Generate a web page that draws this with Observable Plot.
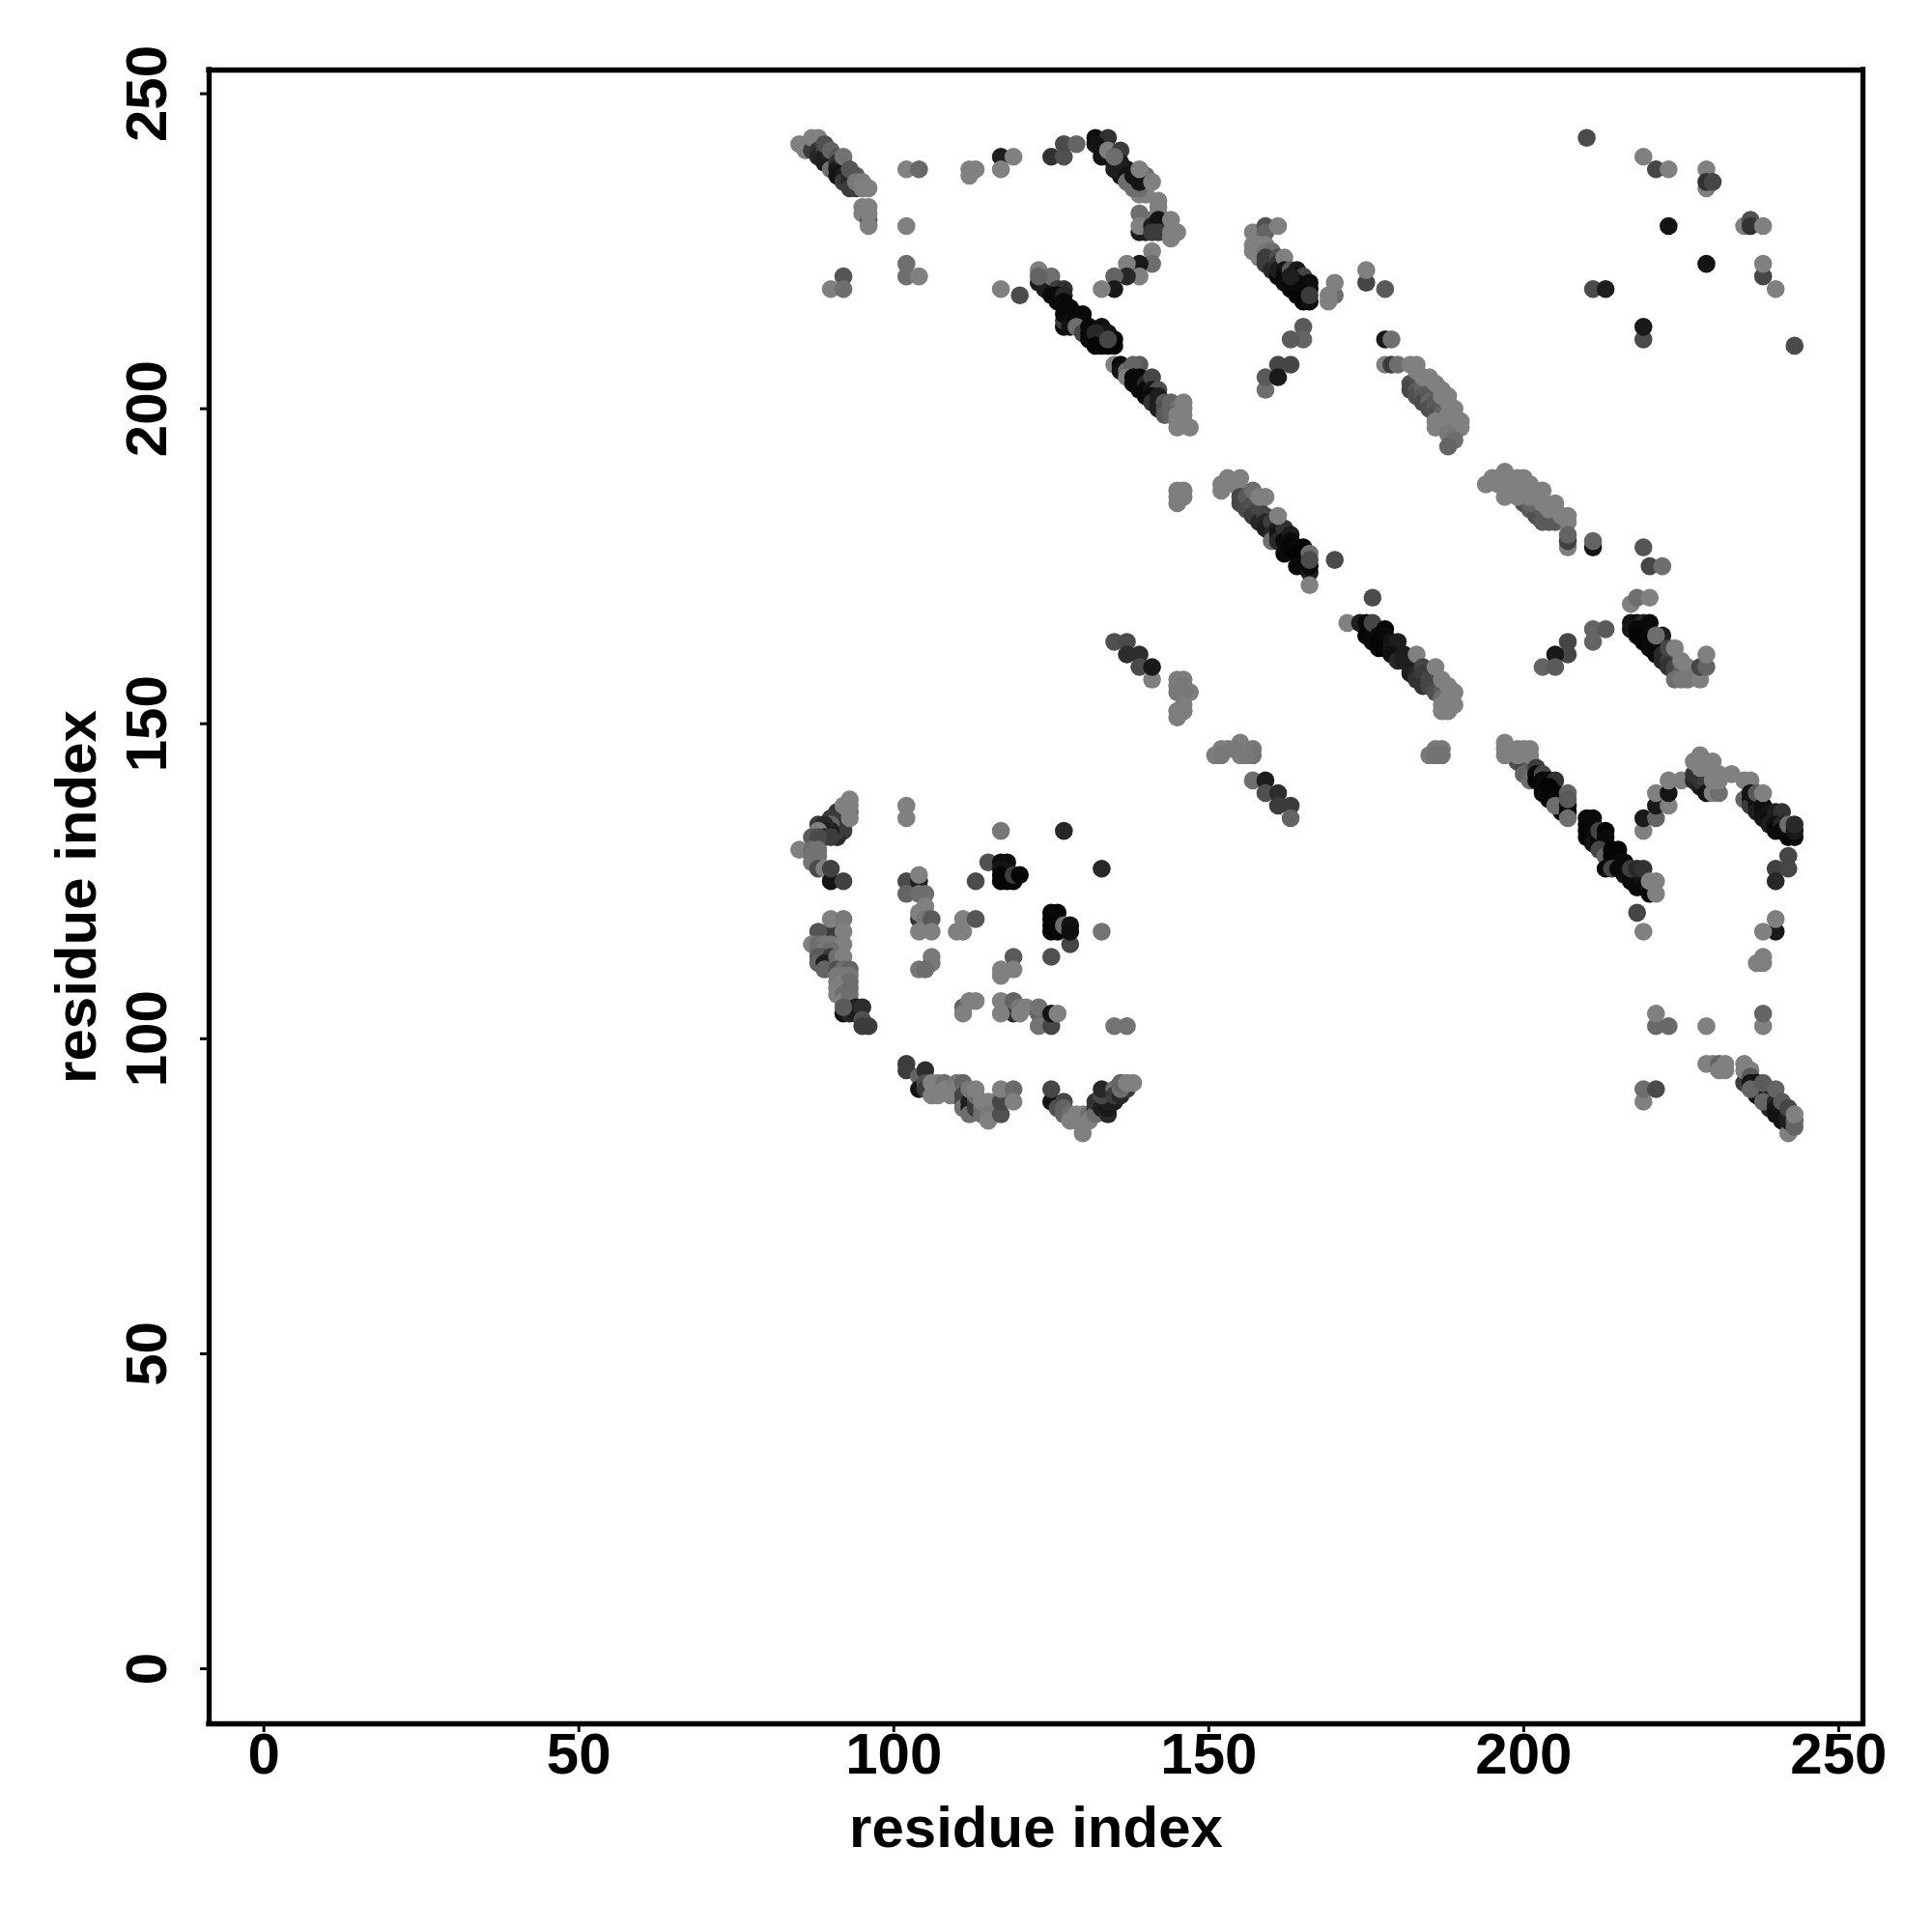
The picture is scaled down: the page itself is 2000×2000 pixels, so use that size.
<!DOCTYPE html>
<html>
<head>
<meta charset="utf-8">
<script src="https://cdn.jsdelivr.net/npm/d3@7"></script>
<script src="https://cdn.jsdelivr.net/npm/@observablehq/plot@0.6"></script>
<style>html,body{margin:0;padding:0;background:#fff}svg{display:block}</style>
</head>
<body>
<div id="chart"></div>
<script>
// each contact: [residue x, residue y, grey level]
const helixTopLeft = [[85,242,128],[86,241,128],[87,241,60],[87,243,128],[88,243,128],[88,241,50],[88,240,40],[89,241,60],[89,240,30],[89,239,30],[90,240,40],[90,239,30],[89,242,80],[90,241,100],[90,238,110],[91,240,90],[91,239,50],[91,238,25],[91,237,20],[92,239,40],[92,238,20],[92,237,30],[92,236,60],[93,237,40],[93,236,40],[93,235,60],[94,235,60],[94,237,90],[92,240,115],[93,238,85],[94,236,120],[95,236,125],[95,235,128],[96,235,128],[95,232,128],[95,231,128],[96,230,90],[96,229,128],[96,232,128],[96,231,128]];
const sparseTopLeft = [[102,238,128],[104,238,105],[102,229,128],[102,223,110],[102,221,110],[104,221,128],[92,221,85],[90,219,128],[92,219,110],[112,238,128],[113,238,128],[112,237,128],[117,240,30],[119,240,128],[117,238,128],[125,240,50],[127,240,80],[127,242,75],[129,242,100],[117,219,128],[120,218,75]];
const arcTop = [[133,242,15],[133,241,15],[134,240,20],[135,239,20],[136,238,20],[136,237,20],[137,238,25],[138,236,15],[139,237,30],[140,236,80],[140,237,110],[139,234,128],[140,234,128],[140,228,40],[140,229,30],[140,230,110],[132,243,15],[134,243,50],[132,242,20],[133,240,20],[134,241,128],[136,241,60],[135,238,30],[136,239,30],[137,237,20],[137,236,110],[138,235,110],[139,235,110],[139,236,20],[135,240,110],[138,237,20],[139,238,128],[141,236,128],[142,233,128],[142,231,128],[142,232,128],[139,228,30],[139,231,110],[139,229,128],[143,229,128],[143,228,128],[143,230,128],[141,229,30],[142,230,20],[141,228,60],[142,228,60],[144,230,128],[144,227,128],[145,228,128],[144,228,128],[141,225,128],[141,223,110],[139,223,25],[137,223,128],[139,221,128],[137,221,40],[135,221,100],[135,219,25],[133,219,128]];
const ridgeUpper = [[124,220,30],[124,219,30],[125,220,60],[125,219,20],[123,220,30],[123,222,128],[125,221,110],[123,221,100],[126,219,60],[127,219,50],[125,218,10],[126,218,10],[126,217,10],[127,218,40],[127,217,10],[127,213,15],[127,214,60],[127,215,10],[128,216,10],[128,215,10],[128,214,15],[128,213,20],[129,215,10],[129,214,10],[130,215,10],[130,214,10],[129,213,110],[130,212,70],[131,213,10],[131,212,10],[131,211,10],[132,211,10],[133,213,15],[133,212,20],[133,211,10],[134,212,20],[132,212,40],[132,210,5],[133,210,5],[135,211,10],[134,210,5],[135,210,5],[134,211,70]];
const ridgeLower = [[135,207,128],[136,207,10],[136,206,20],[137,206,110],[138,206,10],[139,207,90],[138,207,100],[137,205,128],[138,204,10],[138,205,10],[139,205,10],[139,204,10],[139,203,10],[140,204,40],[140,203,10],[140,202,10],[141,205,70],[141,203,20],[142,203,80],[141,202,10],[141,201,50],[142,202,30],[142,201,30],[142,200,30],[143,201,90],[143,200,80],[143,199,90],[144,201,100],[144,200,100],[145,200,110],[146,201,128],[144,199,100],[145,199,128],[145,198,128],[146,198,128],[146,200,128],[146,199,128],[145,197,128],[147,197,128]];
const sparseTopRight = [[210,243,75],[219,240,128],[221,238,70],[223,238,128],[229,238,128],[229,235,128],[229,236,50],[230,236,70],[223,229,20],[235,229,128],[236,230,80],[236,229,50],[238,229,128],[229,223,20],[238,221,70],[238,223,128],[240,219,128],[211,219,75],[213,219,30],[219,211,75],[219,213,25],[243,210,75]];
const clusterMiddleTop = [[175,220,70],[175,222,128],[178,219,90],[170,218,110],[169,218,128],[169,217,128],[170,220,128],[165,213,90],[165,211,100],[163,211,90],[161,207,70],[163,207,70],[159,203,110],[159,205,90],[161,205,25],[178,211,25],[179,211,110],[178,207,128],[179,207,60],[180,207,110],[182,207,128],[183,207,128]];
const helixUpperMiddle = [[157,228,128],[159,229,80],[159,228,100],[161,229,128],[157,226,128],[157,225,128],[158,226,128],[158,225,128],[158,224,128],[159,226,128],[159,225,120],[160,225,110],[159,223,60],[159,224,60],[160,223,60],[160,222,40],[161,224,80],[161,223,50],[161,221,10],[161,222,30],[162,224,128],[162,222,20],[162,221,10],[163,222,90],[164,222,25],[163,220,5],[163,219,5],[164,221,10],[164,219,5],[164,218,5],[165,220,10],[165,219,5],[165,218,5],[165,221,70],[166,219,10],[166,220,15],[165,217,5],[166,217,15],[166,218,60],[164,220,10],[162,220,10],[163,221,30]];
const bandUpperRight = [[182,204,80],[182,203,70],[183,203,90],[183,202,80],[184,203,100],[184,202,90],[184,201,75],[185,202,90],[185,201,100],[185,200,80],[186,201,90],[186,200,90],[186,199,80],[187,200,90],[187,199,100],[187,198,90],[188,198,100],[183,206,128],[184,205,128],[185,205,128],[186,204,128],[187,203,128],[187,202,128],[188,202,128],[188,201,128],[189,200,128],[189,199,128],[188,199,128],[189,198,128],[190,198,128],[186,198,128],[186,197,128],[188,197,128],[190,197,128],[189,196,128],[188,196,120],[189,195,110],[188,194,100]];
const blockMiddle = [[145,187,125],[146,187,125],[145,186,125],[146,186,125],[145,185,125],[145,157,125],[146,157,125],[145,156,125],[146,156,120],[145,155,120],[147,155,125],[146,155,120],[146,153,125],[145,152,125],[146,152,125],[145,151,125],[151,145,125],[152,146,125],[153,146,125],[152,145,120],[155,147,125],[155,145,125],[154,146,120],[157,146,120],[157,145,115],[156,145,120],[185,145,120],[186,146,120],[187,146,120],[187,145,115],[186,145,115]];
const helixCentre = [[152,188,128],[152,187,128],[153,189,128],[155,189,128],[154,188,128],[155,187,128],[155,186,70],[155,185,70],[156,186,90],[156,184,75],[157,185,80],[157,183,60],[157,187,110],[158,184,70],[158,182,40],[159,183,70],[159,182,40],[159,181,30],[160,182,60],[158,186,128],[159,186,128],[160,180,40],[160,179,110],[161,181,30],[161,180,20],[161,179,40],[162,181,50],[161,183,128],[162,179,10],[162,177,10],[163,180,30],[163,179,10],[163,178,5],[164,178,10],[164,177,5],[165,178,5],[165,177,5],[165,176,5],[165,175,10],[166,177,110],[164,175,10],[166,174,30],[166,175,10],[166,172,128],[166,176,75],[170,176,75],[176,170,75]];
const helixCentreLower = [[172,166,128],[174,166,30],[175,166,10],[175,164,5],[176,164,10],[176,163,10],[177,165,128],[176,166,70],[177,164,10],[177,163,5],[177,162,5],[178,165,5],[178,164,10],[178,162,5],[179,163,20],[179,162,20],[180,163,30],[179,161,15],[180,160,40],[181,161,30],[181,160,30],[182,160,30],[182,159,30],[182,158,30],[183,158,40],[183,157,50],[183,161,128],[184,159,70],[184,158,60],[184,156,50],[185,158,60],[185,157,70],[185,156,70],[186,157,70],[186,156,70],[186,155,80],[187,155,90],[187,154,110],[186,159,128],[187,157,128],[188,156,128],[188,154,128],[188,153,128],[189,155,128],[189,153,128],[187,152,128],[188,152,128],[187,153,128]];
const chainLeft = [[135,163,80],[137,163,75],[137,161,45],[139,161,45],[139,159,75],[141,157,128],[141,159,25],[157,141,110],[159,141,30],[159,139,80],[161,139,45],[161,137,60],[163,137,60],[163,135,100]];
const bandRightUpper = [[200,185,80],[201,184,90],[202,183,80],[203,182,90],[204,182,90],[205,182,90],[203,184,90],[204,183,90],[201,185,100],[194,188,128],[195,189,128],[197,190,128],[197,186,128],[199,186,128],[198,188,128],[199,187,128],[199,189,128],[200,189,128],[200,187,128],[201,188,128],[201,186,128],[202,187,128],[202,186,128],[203,187,128],[203,185,128],[204,184,128],[205,184,128],[205,185,128],[206,183,128],[207,183,128],[207,182,128],[196,188,128],[197,188,128],[207,178,128],[207,179,65],[207,180,100],[211,178,20],[211,179,100],[219,178,85],[220,175,70],[222,175,110],[217,169,128],[218,170,110],[220,170,128]];
const helixRightUpper = [[217,166,20],[218,166,15],[219,166,40],[220,166,10],[217,165,25],[218,165,10],[219,165,10],[218,164,5],[219,163,5],[220,164,10],[220,163,5],[220,162,10],[222,164,30],[221,162,10],[221,161,10],[222,161,40],[222,160,40],[221,164,110],[223,160,60],[223,159,50],[224,159,70],[224,158,70],[223,162,70],[224,162,128],[225,158,100],[226,158,110],[224,157,110],[225,160,128],[226,159,128],[225,157,120],[226,157,120],[228,157,128],[228,159,70],[229,159,100],[229,161,128],[207,163,70],[207,161,70],[205,161,25],[203,159,100],[205,159,90],[211,165,100],[213,165,90],[211,163,100]];
const helixRightMiddle = [[199,144,80],[200,143,70],[201,144,90],[200,142,100],[201,141,110],[197,147,128],[197,146,128],[197,145,128],[199,146,128],[199,145,128],[200,146,128],[201,146,128],[201,145,128],[202,143,60],[202,142,10],[202,141,5],[203,142,70],[203,141,10],[203,140,10],[203,139,10],[204,141,10],[205,141,50],[204,140,5],[204,138,5],[205,139,5],[205,138,10],[206,138,5],[206,137,10],[206,136,10],[205,137,110],[207,137,15],[207,136,5],[207,135,110],[207,139,100],[207,138,90]];
const helixRightLower = [[210,135,10],[211,135,10],[210,134,10],[210,133,5],[210,132,5],[211,134,10],[211,133,10],[211,132,10],[211,131,20],[212,132,10],[212,131,10],[212,133,70],[213,133,5],[213,132,10],[213,131,10],[212,130,70],[213,129,100],[214,130,5],[214,129,5],[214,128,5],[215,130,5],[215,129,5],[215,128,10],[216,128,10],[216,127,10],[216,126,20],[213,127,10],[214,127,70],[215,127,10],[217,126,15],[217,125,10],[218,126,15],[218,125,15],[218,124,10],[219,125,20],[219,124,10],[217,127,60],[218,127,40],[219,127,50],[220,124,30],[220,123,5],[220,125,128],[221,125,128],[221,123,128],[218,120,70],[219,117,128]];
const arcRight = [[219,133,128],[219,135,25],[221,135,100],[221,137,25],[221,139,128],[223,137,128],[223,139,20],[223,141,128],[225,141,128],[227,141,40],[227,142,50],[228,140,30],[228,142,50],[229,142,20],[228,141,50],[229,141,60],[229,139,20],[230,139,128],[231,139,110],[227,144,128],[228,143,128],[229,143,128],[229,144,128],[228,145,128],[230,144,128],[230,141,128],[231,142,128],[231,141,128],[233,142,128],[235,138,100],[235,141,128],[236,141,128],[236,138,20],[236,137,60],[236,139,20],[237,138,20],[237,137,15],[237,136,30],[237,139,90],[238,137,15],[238,136,15],[238,139,128],[238,135,20],[239,136,20],[239,135,15],[239,134,30],[240,136,30],[241,136,50],[240,134,15],[240,133,10],[241,134,40],[241,133,10],[242,133,10],[242,132,10],[243,132,10],[242,134,110],[243,133,25],[243,134,40],[242,129,70],[240,127,65],[242,127,70],[240,125,40],[240,117,25],[240,119,128],[238,117,128],[238,113,128],[237,112,128],[238,112,128]];
const lowerRight = [[221,102,105],[221,104,128],[223,102,105],[229,102,128],[238,102,128],[238,104,100],[229,96,128],[230,96,128],[231,96,100],[231,95,128],[232,96,128],[232,95,128],[235,93,60],[235,96,128],[235,95,128],[236,95,128],[236,94,90],[236,93,20],[237,93,20],[237,92,20],[238,92,25],[237,91,20],[238,91,30],[239,91,30],[239,90,20],[239,89,40],[236,92,100],[238,90,100],[238,93,90],[240,90,40],[240,89,25],[240,88,20],[241,89,25],[241,88,20],[241,87,20],[242,88,30],[240,92,100],[241,90,90],[242,85,128],[242,87,30],[242,89,70],[243,86,100],[243,87,100],[243,88,128],[219,90,128],[219,92,110],[221,92,75]];
const pocketUpperLeft = [[92,134,50],[92,133,60],[91,134,40],[91,132,40],[91,133,60],[91,135,50],[91,136,50],[93,136,100],[93,135,128],[93,137,128],[92,137,128],[93,138,128],[90,135,60],[90,134,100],[90,133,30],[88,134,60],[89,134,40],[89,133,30],[88,133,128],[89,132,40],[87,132,90],[90,132,60],[88,132,75],[85,130,128],[87,130,110],[88,130,115],[87,129,115],[88,129,115],[87,128,115],[88,127,75],[89,127,128],[90,125,20],[90,127,65],[92,125,65]];
const pocketCentre = [[102,137,128],[102,135,128],[117,133,120],[127,133,40],[133,127,40],[115,128,80],[117,128,15],[118,128,15],[117,127,20],[117,126,5],[117,125,5],[118,125,5],[119,125,5],[119,126,60],[120,126,5],[113,125,75],[125,120,5],[126,120,5],[125,119,10],[125,118,5],[125,117,5],[126,117,5],[127,118,110],[128,115,70],[128,118,20],[128,117,15],[133,117,115],[125,113,80]];
const pocketMiddle = [[102,125,75],[104,125,30],[104,126,128],[102,123,100],[104,123,110],[105,123,110],[105,121,128],[104,119,50],[104,120,128],[105,119,120],[106,119,90],[104,117,128],[106,117,128],[111,119,128],[113,119,85],[110,117,128],[111,117,128],[106,113,120],[106,112,120],[104,111,120],[105,111,110],[119,113,90],[117,111,128],[119,111,128],[117,110,128]];
const pocketLowerRow = [[111,105,100],[112,106,128],[113,106,128],[111,104,128],[117,106,128],[119,104,40],[119,106,100],[117,104,128],[120,105,120],[121,105,128],[120,104,128],[123,104,100],[123,105,115],[123,102,115],[125,102,70],[125,104,20],[126,104,128],[135,102,115],[137,102,115]];
const pocketLowerLeft = [[90,117,60],[90,119,128],[92,119,120],[92,117,128],[88,117,85],[87,115,128],[88,115,110],[89,115,120],[90,115,120],[92,115,128],[88,114,110],[89,114,120],[90,114,110],[88,113,90],[89,113,90],[90,113,60],[88,112,100],[89,112,30],[90,112,30],[91,112,50],[91,113,110],[92,113,128],[89,111,100],[91,111,80],[92,111,110],[93,111,100],[91,110,120],[92,110,120],[91,109,120],[92,109,128],[93,110,120],[93,109,110],[91,108,128],[93,108,110],[91,107,128],[92,107,110],[92,106,128],[93,107,110],[93,106,110],[92,104,20],[93,104,40],[94,104,30],[94,105,30],[92,105,90],[95,105,45],[95,103,80],[95,102,60],[96,102,60]];
const bottomBand = [[102,96,60],[102,95,60],[104,94,100],[104,92,20],[105,95,45],[105,93,80],[105,92,60],[106,93,128],[107,93,128],[106,91,128],[107,91,128],[108,93,110],[108,92,128],[109,92,128],[109,91,128],[110,93,120],[110,92,128],[110,91,128],[111,93,100],[111,91,70],[111,90,70],[111,89,115],[112,91,70],[112,90,30],[112,89,30],[112,88,110],[113,90,60],[113,89,60],[113,91,110],[112,92,120],[113,92,128],[114,89,110],[114,88,110],[114,90,128],[115,89,120],[115,90,128],[116,90,128],[116,88,110],[115,88,120],[115,87,128],[117,88,80],[117,90,70],[117,92,128],[119,92,105],[119,90,128]];
const bottomVee = [[125,90,20],[125,92,70],[126,89,80],[127,90,70],[127,89,100],[127,88,100],[128,88,110],[128,87,128],[129,88,128],[130,88,128],[130,85,128],[129,87,128],[130,87,128],[131,88,110],[131,87,128],[132,89,50],[132,88,110],[132,90,50],[133,89,30],[134,88,40],[134,89,25],[134,90,30],[134,91,60],[135,90,30],[133,91,70],[133,92,40],[135,92,110],[135,91,60],[136,91,40],[137,92,60],[136,92,110],[136,93,100],[137,93,128],[138,93,128]];

const contacts = [
  helixTopLeft, sparseTopLeft, arcTop, ridgeUpper, ridgeLower, sparseTopRight,
  clusterMiddleTop, helixUpperMiddle, bandUpperRight, blockMiddle, helixCentre,
  helixCentreLower, chainLeft, bandRightUpper, helixRightUpper, helixRightMiddle,
  helixRightLower, arcRight, lowerRight, pocketUpperLeft, pocketCentre, pocketMiddle,
  pocketLowerRow, pocketLowerLeft, bottomBand, bottomVee
].flat();
const tickValues = [0, 50, 100, 150, 200, 250];
const axisLabel = "residue index";
const xDomain = [-8.69, 253.85];
const yDomain = [-8.74, 253.76];

const font = "'Liberation Sans', Arial, sans-serif";
const chart = Plot.plot({
  width: 2000, height: 2000,
  marginLeft: 216, marginRight: 72, marginTop: 72, marginBottom: 216,
  style: {fontFamily: font, background: "#fff"},
  x: {domain: xDomain, label: null},
  y: {domain: yDomain, label: null},
  marks: [
    Plot.dot(contacts, {x: d => d[0], y: d => d[1], r: 9.3, fill: d => `rgb(${d[2]},${d[2]},${d[2]})`, stroke: "none"}),
    Plot.axisX({ticks: tickValues, tickSize: 9, tickPadding: 0, strokeWidth: 3, stroke:"#000", fontSize: 60, fontWeight: "bold", fill: "#000", label: null, tickFormat: d => String(d)}),
    Plot.axisY({ticks: tickValues, tickSize: 9, tickPadding: 36, strokeWidth: 3, stroke:"#000", fontSize: 60, fontWeight: "bold", fill: "#000", label: null, tickRotate: -90, textAnchor: "middle", lineAnchor: "bottom", tickFormat: d => String(d)}),
    Plot.ruleX(xDomain, {stroke: "#000", strokeWidth: 5.3, strokeLinecap: "square"}),
    Plot.ruleY(yDomain, {stroke: "#000", strokeWidth: 5.3, strokeLinecap: "square"}),
    Plot.text([axisLabel], {frameAnchor: "bottom", dy: 127, fontSize: 60, fontWeight: "bold", fill: "#000", lineAnchor: "bottom"}),
    Plot.text([axisLabel], {frameAnchor: "left", dx: -118, rotate: -90, textAnchor: "middle", fontSize: 60, fontWeight: "bold", fill: "#000", lineAnchor: "bottom"})
  ]
});
document.getElementById("chart").appendChild(chart);
</script>
</body>
</html>
